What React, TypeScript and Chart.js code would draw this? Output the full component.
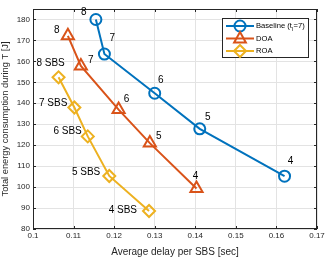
import React, { useEffect, useRef } from "react";
import { Chart, registerables } from "chart.js";

Chart.register(...registerables);

const baselineDelay = [0.1155, 0.1176, 0.1300, 0.1411, 0.1620];
const baselineEnergy = [180, 163.5, 144.8, 127.8, 105.2];
const doaDelay = [0.1086, 0.1118, 0.1211, 0.1288, 0.1403];
const doaEnergy = [172.2, 157.8, 137.0, 121.0, 99.3];
const roaDelay = [0.1063, 0.1102, 0.1135, 0.1188, 0.1286];
const roaEnergy = [152.4, 138.0, 124.2, 105.3, 88.6];
const baselineLabels = ["8", "7", "6", "5", "4"];
const doaLabels = ["8", "7", "6", "5", "4"];
const roaLabels = ["8 SBS", "7 SBS", "6 SBS", "5 SBS", "4 SBS"];
const legendNames = ["Baseline (t", "DOA", "ROA"];
const xTitle = "Average delay per SBS [sec]";
const yTitle = "Total energy consumption during T [J]";

const BLUE = "#0072BD";
const ORANGE = "#D95319";
const YELLOW = "#EDB120";
const AX = "#262626";
const FONT = "'Liberation Sans', Arial, sans-serif";

// label placement (offset from point, alignment)
const baseOff = [[-12, -7, "center"], [8, -16, "center"], [6, -13, "center"], [8, -12, "center"], [6, -15, "center"]];
const doaOff = [[-11, -6, "center"], [10, -6, "center"], [8, -10, "center"], [9, -7, "center"], [-1, -12, "center"]];
const roaOff = [[-8, -14, "center"], [-7, -4, "right"], [-6, -5, "right"], [-9, -4, "right"], [-12, -1, "right"]];

const overlay = {
  id: "overlay",
  afterDraw(chart: any) {
    const ctx = chart.ctx;
    const a = chart.chartArea;
    const xs = chart.scales.x;
    const ys = chart.scales.y;
    ctx.save();
    ctx.strokeStyle = AX;
    ctx.lineWidth = 1;
    ctx.strokeRect(a.left + 0.5, a.top + 0.5, a.right - a.left - 1, a.bottom - a.top - 1);
    ctx.beginPath();
    xs.ticks.forEach((t: any) => {
      const x = Math.round(xs.getPixelForValue(t.value)) + 0.5;
      ctx.moveTo(x, a.bottom); ctx.lineTo(x, a.bottom - 3);
      ctx.moveTo(x, a.top); ctx.lineTo(x, a.top + 3);
    });
    ys.ticks.forEach((t: any) => {
      const y = Math.round(ys.getPixelForValue(t.value)) + 0.5;
      ctx.moveTo(a.left, y); ctx.lineTo(a.left + 3, y);
      ctx.moveTo(a.right, y); ctx.lineTo(a.right - 3, y);
    });
    ctx.stroke();

    ctx.fillStyle = "#000";
    ctx.font = `10px ${FONT}`;
    ctx.textBaseline = "middle";
    const sets: any[] = [
      [baselineDelay, baselineEnergy, baselineLabels, baseOff],
      [doaDelay, doaEnergy, doaLabels, doaOff],
      [roaDelay, roaEnergy, roaLabels, roaOff],
    ];
    sets.forEach(([dx, dy, labs, offs]) => {
      dx.forEach((v: number, i: number) => {
        const px = xs.getPixelForValue(v);
        const py = ys.getPixelForValue(dy[i]);
        ctx.textAlign = offs[i][2];
        ctx.fillText(labs[i], px + offs[i][0], py + offs[i][1]);
      });
    });

    const bx = a.right - 95, by = a.top + 9, bw = 86, bh = 39;
    ctx.fillStyle = "#fff";
    ctx.fillRect(bx, by, bw, bh);
    ctx.strokeStyle = AX;
    ctx.lineWidth = 1;
    ctx.strokeRect(bx + 0.5, by + 0.5, bw, bh);
    const colors = [BLUE, ORANGE, YELLOW];
    const styles = ["circle", "triangle", "rectRot"];
    for (let i = 0; i < 3; i++) {
      const ry = by + 8 + i * 12.5;
      ctx.strokeStyle = colors[i];
      ctx.lineWidth = 2;
      ctx.beginPath();
      ctx.moveTo(bx + 4, ry); ctx.lineTo(bx + 32, ry);
      ctx.stroke();
      const r = i === 0 ? 5.5 : i === 1 ? 6.5 : 6;
      ctx.beginPath();
      if (styles[i] === "circle") {
        ctx.arc(bx + 18, ry, r, 0, Math.PI * 2);
      } else if (styles[i] === "triangle") {
        ctx.moveTo(bx + 18, ry - r);
        ctx.lineTo(bx + 18 + r * 0.9, ry + r * 0.6);
        ctx.lineTo(bx + 18 - r * 0.9, ry + r * 0.6);
        ctx.closePath();
      } else {
        ctx.moveTo(bx + 18, ry - r); ctx.lineTo(bx + 18 + r, ry);
        ctx.lineTo(bx + 18, ry + r); ctx.lineTo(bx + 18 - r, ry);
        ctx.closePath();
      }
      ctx.stroke();
      ctx.fillStyle = "#000";
      ctx.font = `7.6px ${FONT}`;
      ctx.textAlign = "left";
      let tx = bx + 34;
      ctx.fillText(legendNames[i], tx, ry);
      if (i === 0) {
        tx += ctx.measureText(legendNames[i]).width;
        ctx.font = `5.5px ${FONT}`;
        ctx.fillText("l", tx, ry + 3);
        tx += ctx.measureText("l").width + 0.5;
        ctx.font = `7.6px ${FONT}`;
        ctx.fillText("=7)", tx, ry);
      }
    }
    ctx.restore();
  },
};

export default function App() {
  const ref = useRef<HTMLCanvasElement>(null);
  useEffect(() => {
    document.body.style.margin = "0";
    const mk = (xs: number[], ys: number[]) => xs.map((x, i) => ({ x, y: ys[i] }));
    const ds = (label: string, data: any, color: string, style: string, r: number) => ({
      label,
      data,
      showLine: true,
      borderColor: color,
      backgroundColor: "rgba(0,0,0,0)",
      borderWidth: 2,
      pointStyle: style,
      pointRadius: r,
      pointBorderWidth: 2,
      pointBorderColor: color,
      pointBackgroundColor: "rgba(0,0,0,0)",
    });
    const chart = new Chart(ref.current!, {
      type: "scatter",
      data: {
        datasets: [
          ds("Baseline", mk(baselineDelay, baselineEnergy), BLUE, "circle", 5.5),
          ds("DOA", mk(doaDelay, doaEnergy), ORANGE, "triangle", 7),
          ds("ROA", mk(roaDelay, roaEnergy), YELLOW, "rectRot", 6),
        ],
      },
      options: {
        animation: false,
        responsive: false,
        maintainAspectRatio: false,
        layout: { padding: { top: 3, right: 10, left: 0, bottom: 0 } },
        plugins: { legend: { display: false }, tooltip: { enabled: false } },
        scales: {
          x: {
            type: "linear",
            min: 0.1,
            max: 0.17,
            afterBuildTicks: (s: any) => {
              const t = [];
              for (let i = 0; i <= 7; i++) t.push({ value: Number((0.1 + i * 0.01).toFixed(2)) });
              s.ticks = t;
            },
            afterFit: (s: any) => { s.height = 29; },
            ticks: {
              color: AX,
              font: { size: 8, family: FONT },
              padding: 2,
              maxRotation: 0,
              callback: (v: any) => String(Number(Number(v).toFixed(2))),
            },
            grid: { color: "#e3e3e3", drawTicks: false, lineWidth: 1 },
            border: { display: false },
            title: { display: true, text: xTitle, color: AX, font: { size: 10, family: FONT }, padding: { top: 1, bottom: 0 } },
          },
          y: {
            type: "linear",
            min: 80,
            max: 185,
            afterBuildTicks: (s: any) => {
              const t = [];
              for (let v = 80; v <= 180; v += 10) t.push({ value: v });
              s.ticks = t;
            },
            afterFit: (s: any) => { s.width = 33; },
            ticks: { color: AX, font: { size: 8, family: FONT }, padding: 3 },
            grid: { color: "#e3e3e3", drawTicks: false, lineWidth: 1 },
            border: { display: false },
            title: { display: true, text: yTitle, color: AX, font: { size: 9.3, family: FONT }, padding: { top: 0, bottom: 1 } },
          },
        },
      },
      plugins: [overlay],
    } as any);
    return () => chart.destroy();
  }, []);
  return (
    <div style={{ position: "absolute", left: 0, top: 0, width: 327, height: 258 }}>
      <canvas ref={ref} width={327} height={258} style={{ width: 327, height: 258 }} />
    </div>
  );
}
